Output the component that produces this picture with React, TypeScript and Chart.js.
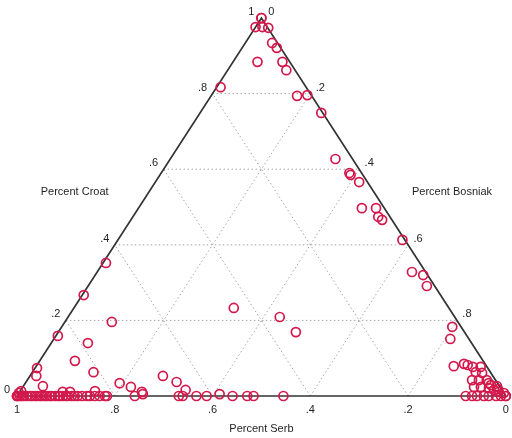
import React, { useEffect, useRef } from "react";
import { Chart, registerables } from "chart.js";

Chart.register(...registerables);

// Municipalities with a Croat share > 0 (ternary shares: Croat, Bosniak; Serb = remainder)
const croatShare = [
  1.0, 1.0, 0.976, 0.976, 0.974, 0.934, 0.921, 0.884, 0.862, 0.884,
  0.817, 0.794, 0.796, 0.749, 0.627, 0.59, 0.585, 0.566, 0.497, 0.497,
  0.474, 0.466, 0.413, 0.328, 0.32, 0.291, 0.183, 0.151,
  0.079, 0.085, 0.082, 0.077, 0.077, 0.063, 0.061, 0.042, 0.042, 0.042,
  0.024, 0.024, 0.029, 0.016, 0.011, 0.008, 0.021, 0.026, 0.034, 0.018,
  0.196, 0.159, 0.14, 0.093, 0.063, 0.074, 0.053, 0.026, 0.034, 0.024,
  0.011, 0.005, 0.053, 0.037, 0.016, 0.005, 0.011, 0.011, 0.013, 0.233,
  0.209, 0.169, 0.352, 0.267, 0.008, 0.013,
];
const bosniakShare = [
  0, 0, 0, 0.014, 0.027, 0.055, 0.071, 0.101, 0.12, 0.05,
  0.008, 0.176, 0.196, 0.248, 0.338, 0.385, 0.39, 0.417, 0.457, 0.486,
  0.502, 0.514, 0.582, 0.644, 0.671, 0.693, 0.799, 0.811,
  0.854, 0.872, 0.881, 0.894, 0.91, 0.907, 0.921, 0.91, 0.924, 0.94,
  0.923, 0.937, 0.955, 0.968, 0.98, 0.992, 0.955, 0.969, 0.948, 0.975,
  0.096, 0.004, 0.075, 0.072, 0.125, 0.004, 0.013, 0.04, 0.193, 0.221,
  0.25, 0.255, 0.272, 0.308, 0.337, 0.412, 0.088, 0.103, 0.153, 0.327,
  0.433, 0.486, 0.006, 0.003, 0, 0.002,
];
// Municipalities with no Croats (on the Serb–Bosniak base): Bosniak share
const baseBosniakShare = [
  0.918, 0.931, 0.941, 0.955, 0.965, 0.98, 0.99, 1.0, 1.0,
  0, 0, 0.002, 0.006, 0.01, 0.014, 0.02, 0.027, 0.031, 0.037,
  0.041, 0.047, 0.051, 0.057, 0.061, 0.067, 0.071, 0.078, 0.084, 0.088,
  0.094, 0.1, 0.104, 0.112, 0.118, 0.124, 0.133, 0.143, 0.149, 0.159,
  0.169, 0.18, 0.184, 0.241, 0.331, 0.339, 0.367, 0.388, 0.441, 0.471,
  0.484, 0.545,
];

const gridLevels = [0.2, 0.4, 0.6, 0.8];
const croatTickValues = [0, 0.2, 0.4, 0.6, 0.8, 1];
const croatTickLabels = ["0", ".2", ".4", ".6", ".8", "1"];
const bosniakTickValues = [0, 0.2, 0.4, 0.6, 0.8];
const bosniakTickLabels = ["0", ".2", ".4", ".6", ".8"];
const serbTickValues = [1, 0.8, 0.6, 0.4, 0.2, 0];
const serbTickLabels = ["1", ".8", ".6", ".4", ".2", "0"];
const axisTitles = { croat: "Percent Croat", bosniak: "Percent Bosniak", serb: "Percent Serb" };

const POINT_COLOR = "#d3184b";
const TEXT_COLOR = "#1f1f1f";
const FONT = "11px 'Liberation Sans', Arial, Helvetica, sans-serif";

// ternary (croat, bosniak) -> cartesian data coordinates of the triangle
const toXY = (c: number, b: number) => ({ x: b + c / 2, y: c });

const labelPlugin = {
  id: "ternaryLabels",
  afterDraw(chart: any) {
    const { ctx, scales } = chart;
    const xs = scales.x;
    const ys = scales.y;
    const px = (c: number, b: number) => {
      const p = toXY(c, b);
      return [xs.getPixelForValue(p.x), ys.getPixelForValue(p.y)];
    };
    ctx.save();
    ctx.fillStyle = TEXT_COLOR;
    ctx.font = FONT;
    ctx.textAlign = "center";
    ctx.textBaseline = "middle";
    croatTickValues.forEach((v, i) => {
      const [X, Y] = px(v, 0);
      ctx.fillText(croatTickLabels[i], X - 10, Y - 6);
    });
    bosniakTickValues.forEach((v, i) => {
      const [X, Y] = px(1 - v, v);
      ctx.fillText(bosniakTickLabels[i], X + 10, Y - 6);
    });
    serbTickValues.forEach((v, i) => {
      const [X, Y] = px(0, 1 - v);
      ctx.fillText(serbTickLabels[i], X, Y + 14);
    });
    ctx.fillText(axisTitles.croat, xs.getPixelForValue(0.118), ys.getPixelForValue(0.54));
    ctx.fillText(axisTitles.bosniak, xs.getPixelForValue(0.89), ys.getPixelForValue(0.54));
    ctx.fillText(axisTitles.serb, xs.getPixelForValue(0.5), ys.getPixelForValue(0) + 33);
    ctx.restore();
  },
};

export default function App() {
  const canvasRef = useRef<HTMLCanvasElement | null>(null);

  useEffect(() => {
    if (!canvasRef.current) return;

    const points = [
      ...croatShare.map((c, i) => toXY(c, bosniakShare[i])),
      ...baseBosniakShare.map((b) => toXY(0, b)),
    ];

    const grid: any[] = [];
    gridLevels.forEach((k) => {
      // constant Croat share
      grid.push(toXY(k, 0), toXY(k, 1 - k), { x: 0, y: null });
      // constant Bosniak share
      grid.push(toXY(0, k), toXY(1 - k, k), { x: 0, y: null });
      // constant Serb share
      grid.push(toXY(0, 1 - k), toXY(1 - k, 0), { x: 0, y: null });
    });

    const frame = [toXY(0, 0), toXY(0, 1), toXY(1, 0), toXY(0, 0)];

    const chart = new Chart(canvasRef.current, {
      type: "scatter",
      data: {
        datasets: [
          {
            label: "municipalities",
            data: points,
            order: 0,
            pointRadius: 4.5,
            pointHoverRadius: 4.5,
            pointBorderWidth: 1.7,
            borderColor: POINT_COLOR,
            pointBorderColor: POINT_COLOR,
            backgroundColor: "rgba(0,0,0,0)",
            pointBackgroundColor: "rgba(0,0,0,0)",
            clip: false,
          } as any,
          {
            label: "frame",
            data: frame,
            order: 1,
            showLine: true,
            borderColor: "#333333",
            borderWidth: 1.7,
            pointRadius: 0,
            clip: false,
          } as any,
          {
            label: "grid",
            data: grid,
            order: 2,
            showLine: true,
            spanGaps: false,
            borderColor: "#a6a6a6",
            borderWidth: 1,
            borderDash: [1.5, 2.5],
            pointRadius: 0,
            clip: false,
          } as any,
        ],
      },
      options: {
        animation: false,
        responsive: false,
        devicePixelRatio: window.devicePixelRatio || 1,
        layout: { padding: { left: 17, right: 5, top: 18, bottom: 42 } },
        plugins: { legend: { display: false }, tooltip: { enabled: false } },
        events: [],
        scales: {
          x: { type: "linear", min: 0, max: 1, display: false },
          y: { type: "linear", min: 0, max: 1, display: false },
        },
      },
      plugins: [labelPlugin],
    });

    return () => chart.destroy();
  }, []);

  return (
    <div style={{ position: "absolute", left: 0, top: 0, width: 512, height: 438, background: "#fff" }}>
      <canvas ref={canvasRef} width={512} height={438} style={{ display: "block" }} />
    </div>
  );
}
